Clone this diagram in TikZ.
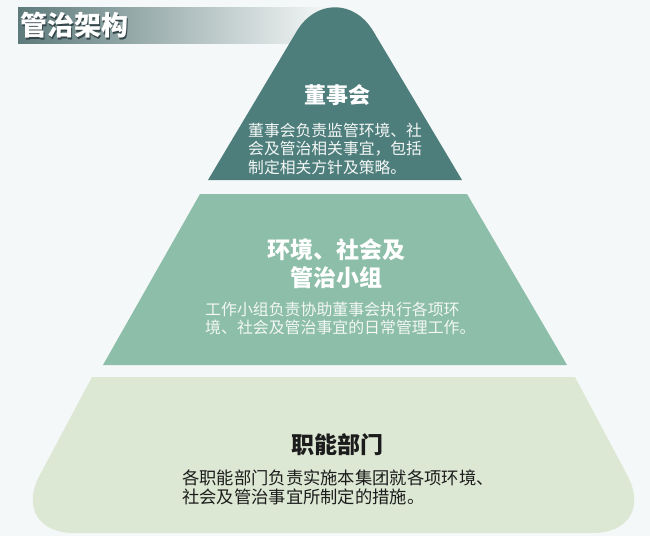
\documentclass[tikz,border=0pt]{standalone}
\usepackage{fontspec}
\setmainfont{Noto Sans CJK SC}
\usetikzlibrary{positioning}
\definecolor{bgcol}{HTML}{F5F8F8}
\definecolor{barleft}{HTML}{5E7B7B}
\definecolor{shadowcol}{HTML}{34464A}
\definecolor{tiertop}{HTML}{4E7E7C}
\definecolor{tiermid}{HTML}{8CBEA9}
\definecolor{tierlow}{HTML}{DDE8D4}
\definecolor{paletext}{HTML}{F3F7F5}
\definecolor{darktext}{HTML}{1C1C1C}

\begin{document}
\begin{tikzpicture}[x=1pt, y=-1pt,
	heading/.style={font=\bfseries\fontsize{23}{28}\selectfont, align=center, inner sep=0pt},
	body/.style={align=left, inner sep=0pt, anchor=west}]
	\useasboundingbox (0, 0) rectangle (650, 536);
	\fill[bgcol] (0, 0) rectangle (650, 536);
	% Title bar:
	\shade[left color=barleft, right color=bgcol] (18, 7) rectangle (330, 43);
	\node[font=\bfseries\fontsize{27}{27}\selectfont, text=shadowcol, inner sep=0pt] (TS) at (75.2, 26.7) {管治架构};
	\node[font=\bfseries\fontsize{27}{27}\selectfont, text=white, inner sep=0pt] (T) at (74, 25.5) {管治架构};
	% Tiers:
	\fill[tiertop] (208, 180) -- (296.6, 31.4) .. controls (315.8, -0.8) and (354.2, -0.8) .. (373.4, 31.4) -- (462, 180) -- cycle;
	\fill[tiermid] (200, 194) -- (467, 194) -- (567, 365) -- (103, 365) -- cycle;
	\fill[tierlow] (92, 377) -- (39.5, 475.6) .. controls (22.7, 507.2) and (38.25, 533) .. (74, 533) -- (593, 533) .. controls (628.75, 533) and (644.3, 507.2) .. (627.5, 475.6) -- (575, 377) -- cycle;
	% Labels:
	\node[heading, font=\bfseries\fontsize{22}{26}\selectfont, text=white] (H1) at (337, 95) {董事会};
	\node[body, font=\fontsize{15.8}{18.5}\selectfont, text=paletext] (B1) at (248, 148.5) {董事会负责监管环境、社\\会及管治相关事宜，包括\\制定相关方针及策略。};
	\node[heading, text=white] (H2) at (336, 264) {环境、社会及\\管治小组};
	\node[body, font=\fontsize{15.9}{17.5}\selectfont, text=paletext] (B2) at (205, 318.5) {工作小组负责协助董事会执行各项环\\境、社会及管治事宜的日常管理工作。};
	\node[heading, text=darktext] (H3) at (337, 445) {职能部门};
	\node[body, font=\fontsize{17.3}{19}\selectfont, text=darktext] (B3) at (182, 487.5) {各职能部门负责实施本集团就各项环境、\\社会及管治事宜所制定的措施。};
\end{tikzpicture}
\end{document}
